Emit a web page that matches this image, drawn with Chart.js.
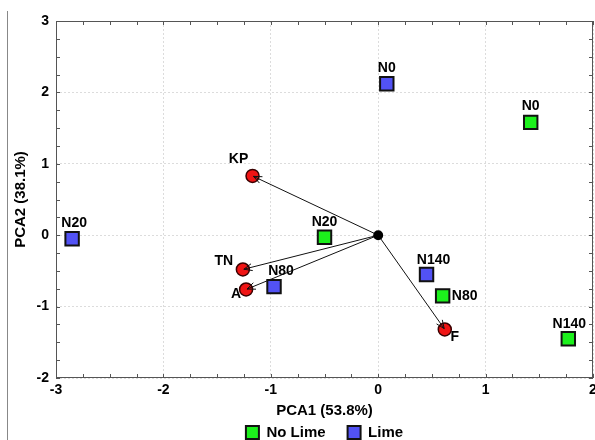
<!DOCTYPE html>
<html>
<head>
<meta charset="utf-8">
<script src="https://cdn.jsdelivr.net/npm/chart.js@4/dist/chart.umd.min.js"></script>
<style>
  html, body { margin: 0; padding: 0; background: #fff; }
  #wrap { position: relative; width: 595px; height: 440px; overflow: hidden; }
  #edge { position: absolute; left: 7px; top: 11px; bottom: 0; border-left: 1px solid #888; }
  canvas { position: absolute; left: 0; top: 0; }
</style>
</head>
<body>
<div id="wrap">
  <div id="edge"></div>
  <canvas id="pcaChart" width="595" height="440"></canvas>
</div>
<script>
// Data
const treatments = ['N0', 'N20', 'N80', 'N140'];
const noLimeX = [1.42, -0.50, 0.60, 1.77];
const noLimeY = [1.58, -0.03, -0.85, -1.45];
const limeX = [0.08, -2.85, -0.97, 0.45];
const limeY = [2.12, -0.05, -0.72, -0.55];
const loadingNames = ['KP', 'TN', 'A', 'F'];
const loadingX = [-1.17, -1.26, -1.23, 0.62];
const loadingY = [0.83, -0.48, -0.76, -1.32];
const xTicks = [-3, -2, -1, 0, 1, 2];
const yTicks = [-2, -1, 0, 1, 2, 3];

// Label offsets in px (style only)
const noLimeLabelOffset = [[0, -16], [0, -15], [22, 0], [1, -15]];
const limeLabelOffset = [[0, -16], [2, -16], [7, -15], [7, -14]];
const loadingLabelOffset = [[-14, -17], [-19, -8], [-10, 5], [10, 8]];

const FONT = "'Liberation Sans', Arial, sans-serif";

function toPoints(xs, ys) {
  return xs.map((x, i) => ({ x: x, y: ys[i] }));
}

// frame + inward ticks every 0.25
const framePlugin = {
  id: 'frame',
  beforeDatasetsDraw(chart) {
    const { ctx, chartArea: a, scales } = chart;
    ctx.save();
    ctx.strokeStyle = '#555';
    ctx.lineWidth = 1;
    ctx.strokeRect(a.left + 0.5, a.top + 0.5, a.right - a.left - 1, a.bottom - a.top - 1);
    ctx.beginPath();
    for (let v = xTicks[0]; v <= xTicks[xTicks.length - 1] + 1e-9; v += 0.25) {
      const px = Math.round(scales.x.getPixelForValue(v)) + 0.5;
      ctx.moveTo(px, a.bottom); ctx.lineTo(px, a.bottom - 4);
      ctx.moveTo(px, a.top); ctx.lineTo(px, a.top + 4);
    }
    for (let v = yTicks[0]; v <= yTicks[yTicks.length - 1] + 1e-9; v += 0.25) {
      const py = Math.round(scales.y.getPixelForValue(v)) + 0.5;
      ctx.moveTo(a.left, py); ctx.lineTo(a.left + 4, py);
      ctx.moveTo(a.right, py); ctx.lineTo(a.right - 4, py);
    }
    ctx.stroke();
    ctx.restore();
  }
};

// arrows from origin to each loading, then text labels
const biplotPlugin = {
  id: 'biplot',
  afterDatasetsDraw(chart) {
    const { ctx, scales } = chart;
    const ox = scales.x.getPixelForValue(0);
    const oy = scales.y.getPixelForValue(0);
    ctx.save();
    ctx.strokeStyle = '#111';
    ctx.lineWidth = 1;
    loadingX.forEach((lx, i) => {
      const tx = scales.x.getPixelForValue(lx);
      const ty = scales.y.getPixelForValue(loadingY[i]);
      const ang = Math.atan2(ty - oy, tx - ox);
      const ex = tx - Math.cos(ang) * 1;
      const ey = ty - Math.sin(ang) * 1;
      ctx.beginPath();
      ctx.moveTo(ox, oy);
      ctx.lineTo(ex, ey);
      ctx.moveTo(ex - 9 * Math.cos(ang - 0.4), ey - 9 * Math.sin(ang - 0.4));
      ctx.lineTo(ex, ey);
      ctx.lineTo(ex - 9 * Math.cos(ang + 0.4), ey - 9 * Math.sin(ang + 0.4));
      ctx.stroke();
    });
    // origin dot on top
    ctx.fillStyle = '#000';
    ctx.beginPath();
    ctx.arc(ox, oy, 5, 0, Math.PI * 2);
    ctx.fill();

    ctx.font = 'bold 14px ' + FONT;
    ctx.fillStyle = '#000';
    ctx.textAlign = 'center';
    ctx.textBaseline = 'middle';
    const put = (xs, ys, names, offs) => {
      xs.forEach((x, i) => {
        const px = scales.x.getPixelForValue(x) + offs[i][0];
        const py = scales.y.getPixelForValue(ys[i]) + offs[i][1];
        ctx.fillText(names[i], px, py);
      });
    };
    put(noLimeX, noLimeY, treatments, noLimeLabelOffset);
    put(limeX, limeY, treatments, limeLabelOffset);
    put(loadingX, loadingY, loadingNames, loadingLabelOffset);
    ctx.restore();
  }
};

const ctx = document.getElementById('pcaChart');

new Chart(ctx, {
  type: 'scatter',
  data: {
    datasets: [
      {
        label: 'No Lime',
        data: toPoints(noLimeX, noLimeY),
        pointStyle: 'rect',
        pointRadius: 9.5,
        pointHoverRadius: 9.5,
        backgroundColor: '#1cf01c',
        borderColor: '#111',
        borderWidth: 2
      },
      {
        label: 'Lime',
        data: toPoints(limeX, limeY),
        pointStyle: 'rect',
        pointRadius: 9.5,
        pointHoverRadius: 9.5,
        backgroundColor: '#5252f4',
        borderColor: '#111',
        borderWidth: 2
      },
      {
        label: 'Loadings',
        data: toPoints(loadingX, loadingY),
        pointStyle: 'circle',
        pointRadius: 6.5,
        pointHoverRadius: 6.5,
        backgroundColor: '#f01414',
        borderColor: '#3a0000',
        borderWidth: 1.5
      }
    ]
  },
  options: {
    responsive: false,
    animation: false,
    layout: { autoPadding: false, padding: { top: 21, right: 2, left: 0, bottom: -10 } },
    plugins: {
      legend: {
        display: true,
        position: 'bottom',
        fullSize: false,
        labels: {
          filter: item => item.datasetIndex < 2,
          boxWidth: 13,
          boxHeight: 13,
          padding: 22,
          color: '#000',
          font: { size: 15, weight: 'bold', family: FONT }
        }
      },
      tooltip: { enabled: false }
    },
    scales: {
      x: {
        type: 'linear',
        min: xTicks[0],
        max: xTicks[xTicks.length - 1],
        afterBuildTicks: s => { s.ticks = xTicks.map(v => ({ value: v })); },
        afterFit: s => { s.paddingLeft = 0; s.paddingRight = 0; s.height = 25; },
        grid: { color: '#dcdcdc', drawTicks: false },
        border: { display: false, dash: [2, 2] },
        ticks: {
          padding: 4,
          color: '#000',
          font: { size: 14, weight: 'bold', family: FONT }
        },
        title: {
          display: true,
          text: 'PCA1 (53.8%)',
          color: '#000',
          padding: { top: 4, bottom: -17 },
          font: { size: 15, weight: 'bold', family: FONT }
        }
      },
      y: {
        type: 'linear',
        min: yTicks[0],
        max: yTicks[yTicks.length - 1],
        afterBuildTicks: s => { s.ticks = yTicks.map(v => ({ value: v })); },
        afterFit: s => { s.paddingTop = 0; s.paddingBottom = 0; s.width = 56; },
        grid: { color: '#dcdcdc', drawTicks: false },
        border: { display: false, dash: [2, 2] },
        ticks: {
          padding: 7,
          color: '#000',
          font: { size: 14, weight: 'bold', family: FONT }
        },
        title: {
          display: true,
          text: 'PCA2 (38.1%)',
          color: '#000',
          padding: { top: 12, bottom: 0 },
          font: { size: 15, weight: 'bold', family: FONT }
        }
      }
    }
  },
  plugins: [framePlugin, biplotPlugin]
});
</script>
</body>
</html>
